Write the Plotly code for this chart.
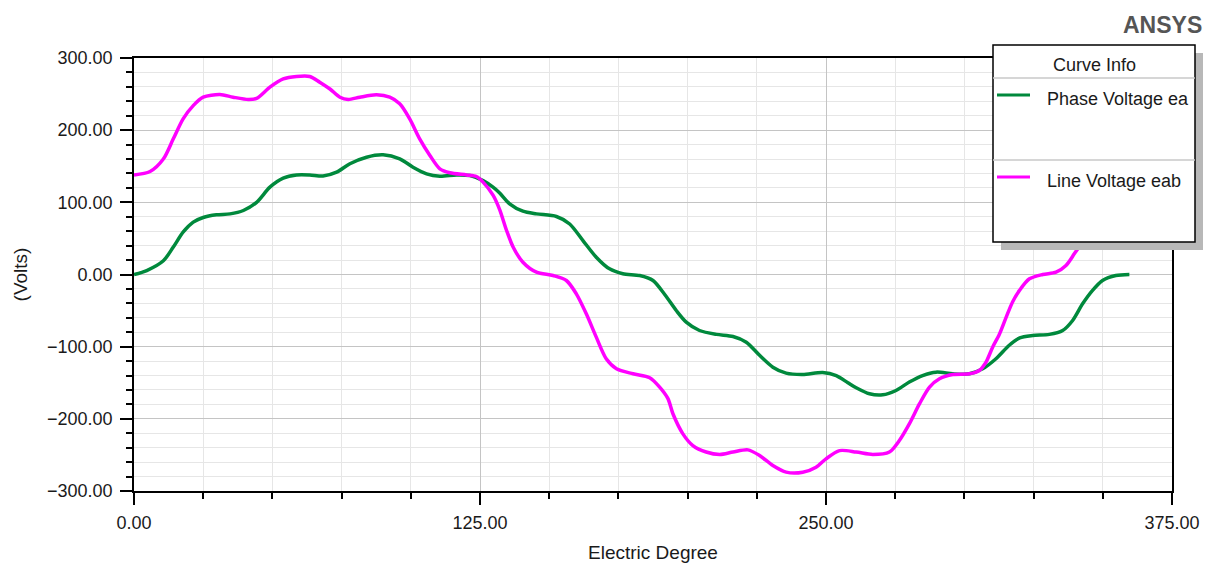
import plotly.graph_objects as go

# ---- data ----
phase_x = [0, 4.6, 10.6, 14.2, 17.8, 21.4, 25, 29.8, 34.7, 39.5, 44.3, 49.1, 53.9, 58.7, 63.5,
           68.3, 73.2, 78, 84, 90, 96, 100.8, 105.7, 110.5, 116.5, 121.3, 126.1, 129.7, 132.1,
           135.7, 140.5, 145.4, 152.6, 157.4, 162.2, 167, 171.8, 176.6, 182.7, 187.5, 191.6,
           195.9, 199.5, 204.3, 210.4, 216.4, 221.2, 226, 230.8, 235.6, 241.6, 248.8, 253.7,
           257.9, 260.9, 265.7, 270.5, 275.3, 280.1, 284.9, 289.8, 295.8, 301.8, 306.6, 311.4,
           316.2, 320, 324.7, 330.7, 335.5, 339.1, 342.7, 346.3, 349.9, 354.7, 359.6]
phase_y = [0, 5.5, 19, 38, 59, 72.5, 79, 82.7, 84, 88.7, 100, 121, 133.5, 138, 138,
           136.5, 141.8, 153.4, 162.5, 165.8, 160.3, 148.7, 139.5, 136.2, 138, 137.2, 130, 121, 113,
           98, 87.7, 84, 80.4, 70, 47, 24, 7.8, 1, -1.4, -8.3, -27,
           -49.9, -66, -77.6, -83, -85.9, -93.8, -112, -128.4, -136.7, -138.6, -135.8, -140,
           -150, -157, -165.3, -166.7, -160.7, -149, -140, -135.3, -137.6, -137.6, -130.7, -116.8,
           -98, -87.7, -84.5, -83, -77.6, -63.7, -40.6, -22, -8.3, -1.4, 0]

line_x = [0, 5.8, 10.6, 14.2, 17.8, 21.4, 25, 31, 35.8, 41.3, 44.3, 49.1, 53.9, 58.7, 63.5,
          67.1, 70.8, 74.4, 77.4, 81.6, 87.6, 92.4, 96, 99.6, 103.2, 106.9, 110.5, 114.1, 120.1,
          123.7, 126.1, 129.7, 132.1, 134.6, 137, 140.5, 145.4, 151.4, 156.2, 159.8, 163.4, 167,
          170.6, 174.3, 180.3, 186.3, 189.9, 192.9, 194.7, 198.3, 201.9, 206.7, 211.6, 216.4,
          221.8, 226, 230.8, 235.6, 241.6, 246.4, 250, 254.9, 260.9, 266.9, 272.9, 276.5, 280.1,
          283.8, 287.4, 291, 295.8, 301.8, 305.4, 307.8, 310.2, 312.6, 315, 317.4, 319.9, 323.5,
          328.3, 333.1, 336.7, 339.7, 342.1, 343.4, 347, 350.6, 354.3, 360]
line_y = [138, 142.7, 160, 188, 216, 234, 245.7, 249.4, 245.7, 242.5, 244, 259.6, 271, 274.4, 274.4,
          266.5, 257, 245.7, 242.5, 245.7, 249, 245.7, 236.5, 215.7, 188, 165, 146.4, 141, 138,
          135.8, 128, 110, 90, 61, 37.8, 17, 3.2, -1.4, -8.3, -26.8, -54.5, -86.8,
          -116.8, -130.7, -137.6, -143, -156, -172, -193, -220.8, -237, -246, -249.4, -246,
          -243, -250.8, -264.7, -273.9, -274, -267, -255.4, -244, -246, -249.4, -246, -230, -207,
          -179, -156, -144.5, -138.6, -137.6, -133, -121.5, -100.7, -83, -60, -38, -22, -6,
          0, 3.2, 12.5, 28.6, 42.5, 54.5, 86.8, 116.8, 130.7, 137.6]

series_names = ["Phase Voltage ea", "Line Voltage eab"]
series_colors = ["#00893c", "#ff00ff"]

# ---- layout geometry (pixel helpers) ----
W, H = 1206, 563
PL, PR, PT, PB = 134, 1172, 58, 491


def px(x):
    return (x - PL) / (PR - PL)


def py(y):
    return (PB - y) / (PB - PT)


FONT = "Arial, Liberation Sans, sans-serif"

fig = go.Figure()
fig.add_trace(go.Scatter(x=phase_x, y=phase_y, mode="lines", name=series_names[0],
                         line=dict(color=series_colors[0], width=3.5, shape="spline", smoothing=0.8)))
fig.add_trace(go.Scatter(x=line_x, y=line_y, mode="lines", name=series_names[1],
                         line=dict(color=series_colors[1], width=3.5, shape="spline", smoothing=0.8)))

axis_common = dict(
    showline=True, linecolor="black", linewidth=1.5, mirror=True,
    ticks="outside", ticklen=12, tickwidth=1.5, tickcolor="black",
    showgrid=True, gridcolor="#c4c4c4", gridwidth=1,
    zeroline=False, tickformat=".2f", automargin=False,
    tickfont=dict(family=FONT, size=18, color="#1a1a1a"),
)

fig.update_xaxes(
    range=[0, 375], tick0=0, dtick=125, ticklabelstandoff=3,
    minor=dict(dtick=25, ticks="outside", ticklen=6, tickcolor="black", tickwidth=1.5,
               showgrid=True, gridcolor="#e6e6e6", gridwidth=1),
    title=dict(text="Electric Degree", font=dict(family=FONT, size=19, color="#1a1a1a"), standoff=16),
    **axis_common)
fig.update_yaxes(
    range=[-300, 300], tick0=-300, dtick=100, ticklabelstandoff=4,
    minor=dict(dtick=20, ticks="outside", ticklen=6, tickcolor="black", tickwidth=1.5,
               showgrid=True, gridcolor="#e6e6e6", gridwidth=1),
    title=dict(text="(Volts)", font=dict(family=FONT, size=19, color="#1a1a1a"), standoff=14),
    **axis_common)

shapes = [
    # shadow
    dict(type="rect", xref="paper", yref="paper", x0=px(1001), x1=px(1203), y0=py(250), y1=py(53),
         fillcolor="#b8b8b8", line=dict(width=0), layer="above"),
    # box
    dict(type="rect", xref="paper", yref="paper", x0=px(993), x1=px(1195), y0=py(242), y1=py(45),
         fillcolor="white", line=dict(color="black", width=1.5), layer="above"),
    # separators
    dict(type="line", xref="paper", yref="paper", x0=px(993), x1=px(1195), y0=py(78), y1=py(78),
         line=dict(color="#c8c8c8", width=1.5), layer="above"),
    dict(type="line", xref="paper", yref="paper", x0=px(993), x1=px(1195), y0=py(160), y1=py(160),
         line=dict(color="#c8c8c8", width=1.5), layer="above"),
    # legend samples
    dict(type="line", xref="paper", yref="paper", x0=px(997), x1=px(1030), y0=py(95), y1=py(95),
         line=dict(color=series_colors[0], width=3), layer="above"),
    dict(type="line", xref="paper", yref="paper", x0=px(997), x1=px(1030), y0=py(177), y1=py(177),
         line=dict(color=series_colors[1], width=3), layer="above"),
]

annotations = [
    dict(text="Curve Info", xref="paper", yref="paper", x=px(1094), y=py(65), showarrow=False,
         xanchor="center", yanchor="middle", font=dict(family=FONT, size=18, color="#1a1a1a")),
    dict(text=series_names[0], xref="paper", yref="paper", x=px(1045), y=py(99), showarrow=False,
         xanchor="left", yanchor="middle", font=dict(family=FONT, size=18, color="#1a1a1a")),
    dict(text=series_names[1], xref="paper", yref="paper", x=px(1045), y=py(181), showarrow=False,
         xanchor="left", yanchor="middle", font=dict(family=FONT, size=18, color="#1a1a1a")),
    dict(text="<b>ANSYS</b>", xref="paper", yref="paper", x=px(1204), y=py(25), showarrow=False,
         xanchor="right", yanchor="middle", font=dict(family=FONT, size=23, color="#555555")),
]

fig.update_layout(
    width=W, height=H,
    margin=dict(l=PL, r=W - PR, t=PT, b=H - PB, pad=0, autoexpand=False),
    paper_bgcolor="white", plot_bgcolor="white",
    showlegend=False,
    shapes=shapes, annotations=annotations,
)

fig.write_html("out.html")
